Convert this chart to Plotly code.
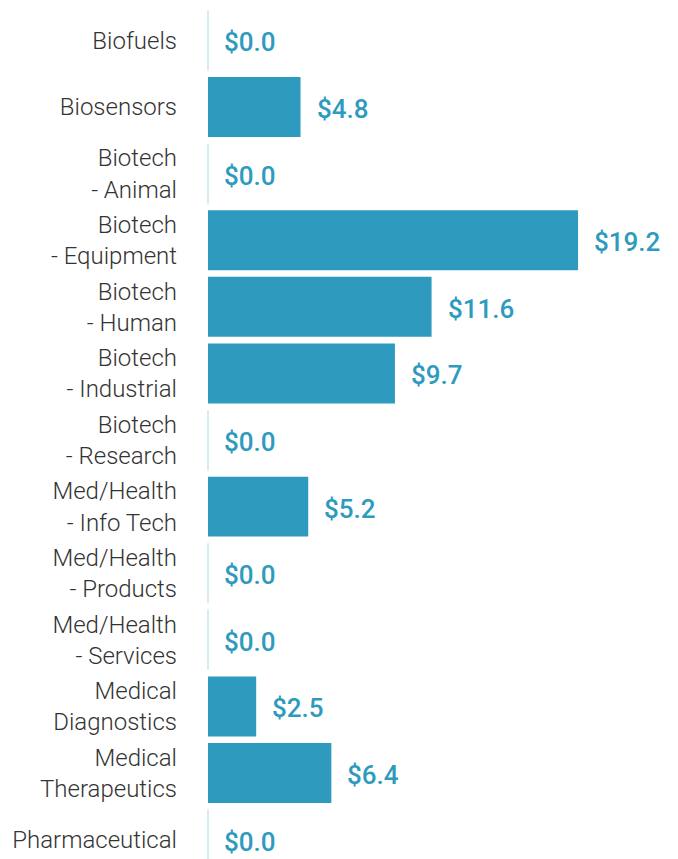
import plotly.graph_objects as go

categories = [
    "Biofuels", "Biosensors", "Biotech<br>- Animal", "Biotech<br>- Equipment",
    "Biotech<br>- Human", "Biotech<br>- Industrial", "Biotech<br>- Research",
    "Med/Health<br>- Info Tech", "Med/Health<br>- Products", "Med/Health<br>- Services",
    "Medical<br>Diagnostics", "Medical<br>Therapeutics", "Pharmaceutical",
]
values = [0.0, 4.8, 0.0, 19.2, 11.6, 9.7, 0.0, 5.2, 0.0, 0.0, 2.5, 6.4, 0.0]
value_labels = ["$" + f"{v:.1f}" for v in values]

BAR = "#2E9BBE"
ZERO = "#C8E4EE"
zero_cats = [c for c, v in zip(categories, values) if v == 0]
zero_vals = [v for v in values if v == 0]

fig = go.Figure()
fig.add_trace(go.Bar(
    x=values, y=categories, orientation="h",
    marker=dict(color=BAR, line=dict(width=0)),
    width=0.9, hoverinfo="skip",
))
fig.add_trace(go.Scatter(
    x=zero_vals, y=zero_cats, mode="markers",
    marker=dict(symbol="line-ns-open", size=43, color=ZERO,
                line=dict(color=ZERO, width=1.5)),
    hoverinfo="skip", cliponaxis=False,
))

for cat, val, lab in zip(categories, values, value_labels):
    fig.add_annotation(
        x=val, y=cat, text=lab, showarrow=False,
        xanchor="left", yanchor="middle", xshift=14, yshift=-2,
        font=dict(family="Roboto", size=26, color=BAR, weight=500),
    )

fig.update_layout(
    width=678, height=859,
    margin=dict(l=200, r=0, t=0, b=0),
    paper_bgcolor="white", plot_bgcolor="white",
    showlegend=False,
    font=dict(family="Roboto"),
)
fig.update_xaxes(range=[0, 24.8], showgrid=False, zeroline=False,
                 showline=False, showticklabels=False)
fig.update_yaxes(type="category", categoryorder="array", categoryarray=categories,
                 range=[12.41, -0.486], showgrid=False, zeroline=False,
                 showline=False, ticks="",
                 ticklabelstandoff=30,
                 tickfont=dict(family="Roboto", size=24, color="#333333", weight=300))

fig.write_html("out.html")
